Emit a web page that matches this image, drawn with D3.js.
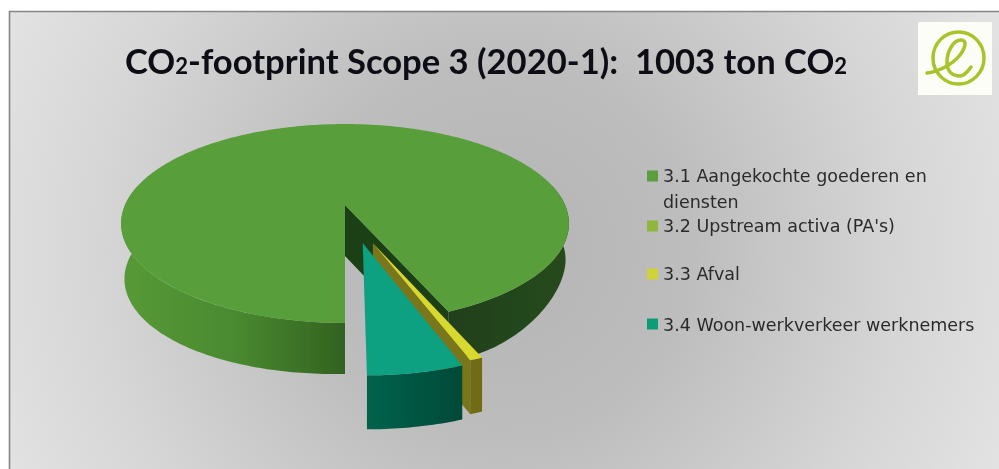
<!DOCTYPE html>
<html><head><meta charset="utf-8">
<script src="https://cdn.jsdelivr.net/npm/d3@7"></script>
<style>html,body{margin:0;padding:0;background:#fff;overflow:hidden}svg{display:block}</style>
</head><body><svg id="c" width="999" height="469"></svg>
<script>
const categories = ["3.1 Aangekochte goederen en diensten","3.2 Upstream activa (PA's)","3.3 Afval","3.4 Woon-werkverkeer werknemers"];
const values = [939,0,8,56];
const topColors = ["#599e3b","#8db53a","#d8d92e","#0ba081"];
const legendColors = ["#5a9e3c","#8fb63c","#cfd237","#0f9c78"];
const legendLines = [["3.1 Aangekochte goederen en","diensten"],["3.2 Upstream activa (PA's)"],["3.3 Afval"],["3.4 Woon-werkverkeer werknemers"]];
const explode = [[0,0,1],[0,0,1],[.118,.37,.93],[.075,.369,.965]];

const svg = d3.select("#c"), defs = svg.append("defs");
const color = d3.scaleOrdinal(categories, topColors);
defs.append("filter").attr("id","soft").attr("x","-2%").attr("y","-2%").attr("width","104%").attr("height","104%")
  .append("feGaussianBlur").attr("stdDeviation",.55);

// background
const bg = defs.append("radialGradient").attr("id","bg").attr("gradientUnits","userSpaceOnUse")
  .attr("cx",500).attr("cy",250).attr("r",540);
[[0,"#b4b4b4"],[.35,"#bdbdbd"],[.75,"#d6d6d6"],[1,"#e2e2e2"]].forEach(s=>bg.append("stop").attr("offset",s[0]).attr("stop-color",s[1]));
svg.append("rect").attr("x",9).attr("y",11).attr("width",990).attr("height",458).attr("fill","url(#bg)");
svg.append("path").attr("d","M9.5 469V11.5H999").attr("fill","none").attr("stroke","#868686").attr("stroke-width",1.6);
const g = svg.append("g").attr("filter","url(#soft)");

// perspective projection of the pie's ground plane
const P=.186, A=96, B=220, X0=345, Y0=205;
function proj(X,Y){const s=1/(1-P*Y);return [X0+B*X*s, Y0+A*Y*s];}
function pt(a,ex,r=1){return proj(ex[0]+ex[2]*r*Math.sin(a), ex[1]-ex[2]*r*Math.cos(a));}
function low(p,ex){
  if(ex[2]<1) return [p[0], p[1]+54];
  const over=Math.max(0,p[0]-480);
  return [X0+(p[0]-X0)*.985, p[1]+51+Math.max(0,X0-p[0])*.02-over*over*.0019];
}
const line=d3.line();
function arcPts(a0,a1,ex){const n=Math.max(2,Math.ceil(Math.abs(a1-a0)*60));return d3.range(n+1).map(i=>pt(a0+(a1-a0)*i/n,ex));}
const rad=d=>d*Math.PI/180;

const arcs=d3.pie().sort(null).value(d=>d).startAngle(Math.PI).endAngle(3*Math.PI)(values);

function lg(id,x1,x2,stops){const gr=defs.append("linearGradient").attr("id",id).attr("gradientUnits","userSpaceOnUse").attr("x1",x1).attr("x2",x2).attr("y1",0).attr("y2",0);
  stops.forEach((c,i)=>gr.append("stop").attr("offset",i/(stops.length-1)).attr("stop-color",c));}
lg("wl",121,345,["#569a37","#4a8a30","#326220"]);
lg("wr",447,568,["#21401a","#264a1a"]);
lg("wt",366,463,["#00634c","#004a38"]);

function wall(a0,a1,ex,fill){const t=arcPts(a0,a1,ex);
  g.append("path").attr("d",line(t.concat(t.map(p=>low(p,ex)).reverse()))+"Z").attr("fill",fill);}
function cut(a,ex,fill){const c=pt(0,ex,0),o=pt(a,ex);
  g.append("path").attr("d",line([c,o,low(o,ex),low(c,ex)])+"Z").attr("fill",fill);}
function topFace(d,i){const ex=explode[i];
  g.append("path").attr("d",line([pt(0,ex,0)].concat(arcPts(d.startAngle,d.endAngle,ex)))+"Z").attr("fill",color(categories[i]));}

// main slice
const sMain=arcs[0];
wall(sMain.startAngle,rad(282),explode[0],"url(#wl)");
wall(rad(360+78),sMain.endAngle,explode[0],"url(#wr)");
cut(sMain.endAngle,explode[0],"#1f4016");
topFace(sMain,0);
// 3.3
const sWaste=arcs[2];
cut(sWaste.endAngle,explode[2],"#7a761c");
wall(sWaste.startAngle,sWaste.endAngle,explode[2],"#6f6c18");
topFace(sWaste,2);
// 3.4
const sCommute=arcs[3];
wall(sCommute.startAngle,sCommute.endAngle,explode[3],"url(#wt)");
topFace(sCommute,3);

// title
const title=g.append("text").attr("x",125).attr("y",74).attr("font-family","Lato, sans-serif").attr("font-weight",700).attr("fill","#0c0c14");
[["CO",34.6],["2",22],["-footprint Scope 3 (2020-1):  1003 ton CO",34.6],["2",22]].forEach(s=>title.append("tspan").attr("font-size",s[1]).style("white-space","pre").text(s[0]));

// logo
g.append("rect").attr("x",918).attr("y",22).attr("width",74).attr("height",73).attr("fill","#fdfdf8");
g.append("ellipse").attr("cx",958.5).attr("cy",58).attr("rx",25.5).attr("ry",26).attr("fill","none").attr("stroke","#a7c42c").attr("stroke-width",3.5);
g.append("path").attr("d","M927 73C938 72 953 64 960 55C966 47 967 40 961 40C953 40 947 52 947 62C947 72 953 76 960 76C965 76 968 71 971 67")
  .attr("fill","none").attr("stroke","#a7c42c").attr("stroke-width",3.5).attr("stroke-linecap","round");

// legend
const ly=[[182,208],[232],[280],[331]];
const lsw=[176,226,274,324];
categories.forEach((c,i)=>{
  g.append("rect").attr("x",647).attr("y",lsw[i]-5.5).attr("width",11).attr("height",11).attr("fill",legendColors[i]);
  legendLines[i].forEach((l,j)=>g.append("text").attr("x",663).attr("y",ly[i][j]).attr("font-family","'DejaVu Sans', sans-serif").attr("font-size",17.5).attr("fill","#2b2b2b").text(l));
});
</script></body></html>
